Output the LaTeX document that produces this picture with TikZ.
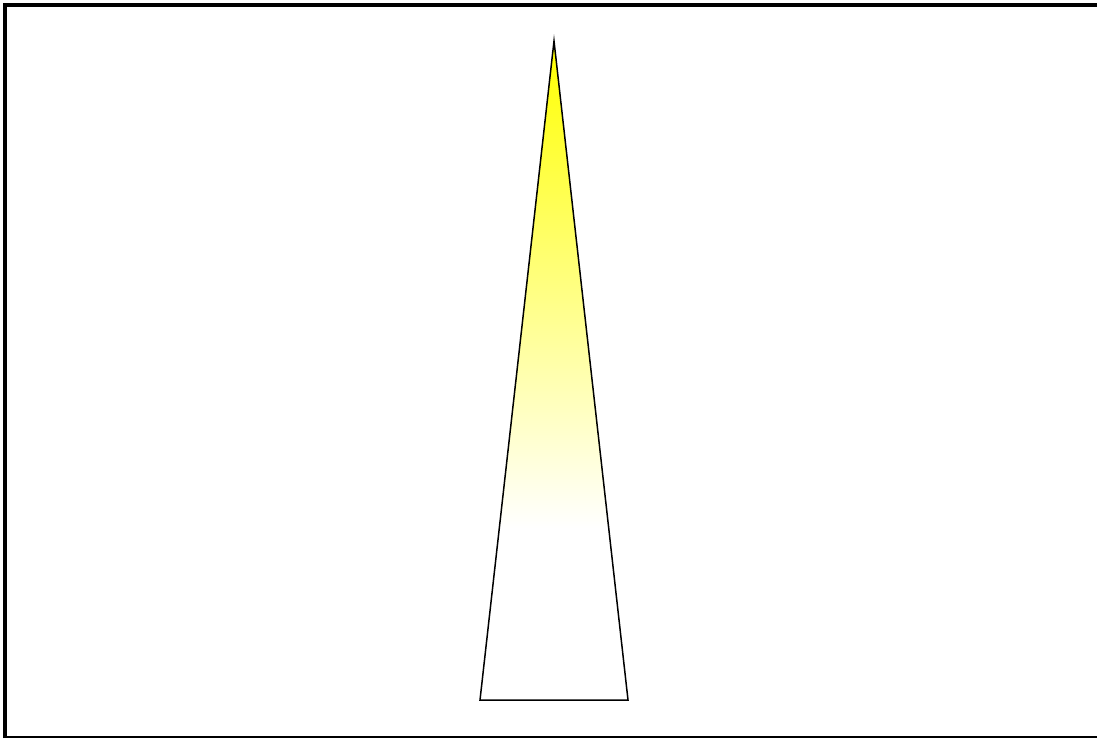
\documentclass[tikz,border=0pt]{standalone}
\usetikzlibrary{shadings}

\pgfdeclareverticalshading{beamfade}{100bp}{color(0bp)=(white); color(38bp)=(white); color(75bp)=(yellow); color(100bp)=(yellow)}

\begin{document}
\begin{tikzpicture}[x=0.02cm, y=-0.02cm]
    \useasboundingbox (0,0) rectangle (1097,738);

    %frame
    \draw[line width=2.6pt] (5,738) -- (5,5) -- (1097,5);
    \draw[line width=0.7pt] (5,737) -- (1097,737);

    %beam
    \coordinate (tip) at (554,41);
    \coordinate (baseL) at (480,700);
    \coordinate (baseR) at (628,700);
    \shade[shading=beamfade] (tip) -- (baseR) -- (baseL) -- cycle;
    \draw[line width=0.85pt, line join=miter] (tip) -- (baseR) -- (baseL) -- cycle;

\end{tikzpicture}
\end{document}
